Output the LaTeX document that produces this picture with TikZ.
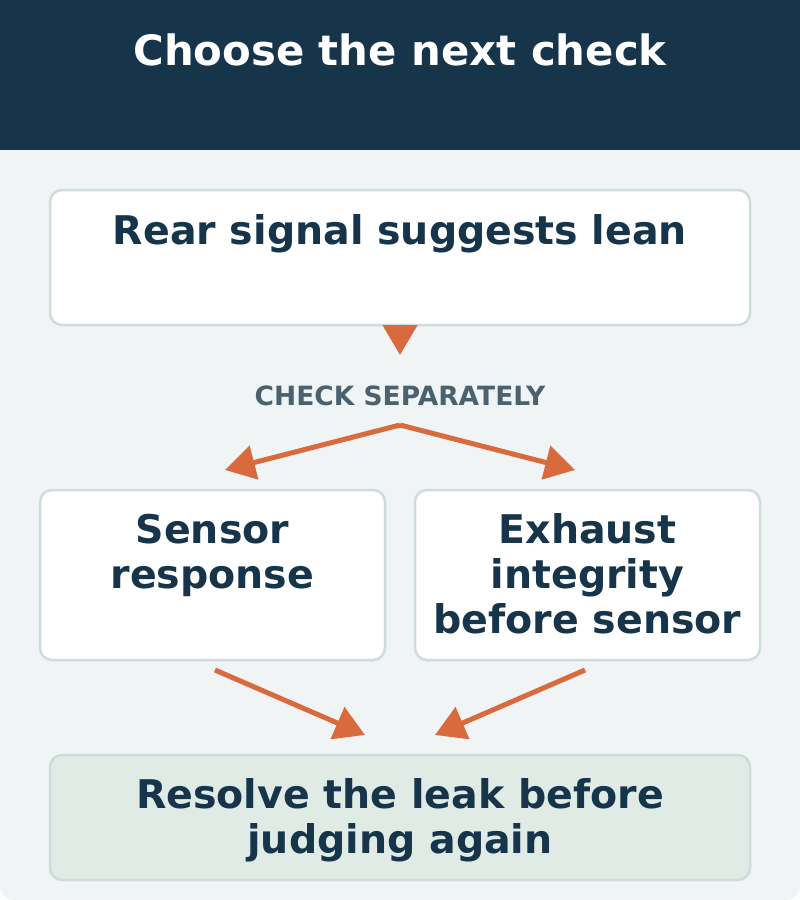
\documentclass[tikz,border=0pt]{standalone}
\usepackage{fontspec}
\setmainfont{DejaVu Sans}
\usetikzlibrary{arrows.meta,positioning}
\definecolor{navy}{HTML}{16344A}
\definecolor{paper}{HTML}{F0F4F5}
\definecolor{edge}{HTML}{CFDCDD}
\definecolor{rust}{HTML}{D86A3E}
\definecolor{slate}{HTML}{4A6270}
\definecolor{mint}{HTML}{E0EBE6}
\tikzset{
  card/.style={draw=edge, line width=2.5pt, rounded corners=12pt, fill=white, inner sep=0pt},
  cardtext/.style={anchor=base, align=center, text=navy, font=\fontsize{39.5}{45}\selectfont\bfseries, inner sep=0pt},
  flow/.style={rust, line width=5pt, -{Triangle[length=30pt,width=34pt]}},
}
\begin{document}
\begin{tikzpicture}[x=1pt,y=-1pt]
    \useasboundingbox (0,0) rectangle (800,900);
    \fill [paper, rounded corners=14pt] (0,0) rectangle (800,900);
    \fill [navy] (0,0) rectangle (800,150);
    \node (title) at (400,65) [anchor=base, inner sep=0pt, text=white, font=\fontsize{41.8}{48}\selectfont\bfseries] {Choose the next check};
    % boxes (text nodes sit on the baseline of their last line)
    \node (rear) [card, minimum width=700pt, minimum height=135pt] at (400,257.5) {};
    \node (reartext) [cardtext] at (400,244) {Rear signal suggests lean};
    \node (sensor) [card, minimum width=345pt, minimum height=170pt] at (212.5,575) {};
    \node (sensortext) [cardtext] at (212.5,588) {Sensor\\response};
    \node (exhaust) [card, minimum width=345pt, minimum height=170pt] at (587.5,575) {};
    \node (exhausttext) [cardtext] at (587.5,633) {Exhaust\\integrity\\before sensor};
    \node (resolve) [card, fill=mint, minimum width=700pt, minimum height=125pt] at (400,817.5) {};
    \node (resolvetext) [cardtext] at (400,853) {Resolve the leak before\\judging again};
    \node (label) at (400,405) [anchor=base, inner sep=0pt, text=slate, font=\fontsize{26.5}{30}\selectfont\bfseries] {CHECK SEPARATELY};
    % connectors
    \coordinate (drop) at (400,355);
    \coordinate (fork) at (400,425);
    \coordinate (leftin) at (225,470);
    \coordinate (rightin) at (575,470);
    \coordinate (sensorout) at (215,670);
    \coordinate (exhaustout) at (585,670);
    \coordinate (leftend) at (365,735);
    \coordinate (rightend) at (435,735);
    \draw [flow] (rear.south) -- (drop);
    \draw [flow] (fork) -- (leftin);
    \draw [flow] (fork) -- (rightin);
    \draw [flow] (sensorout) -- (leftend);
    \draw [flow] (exhaustout) -- (rightend);
\end{tikzpicture}
\end{document}
